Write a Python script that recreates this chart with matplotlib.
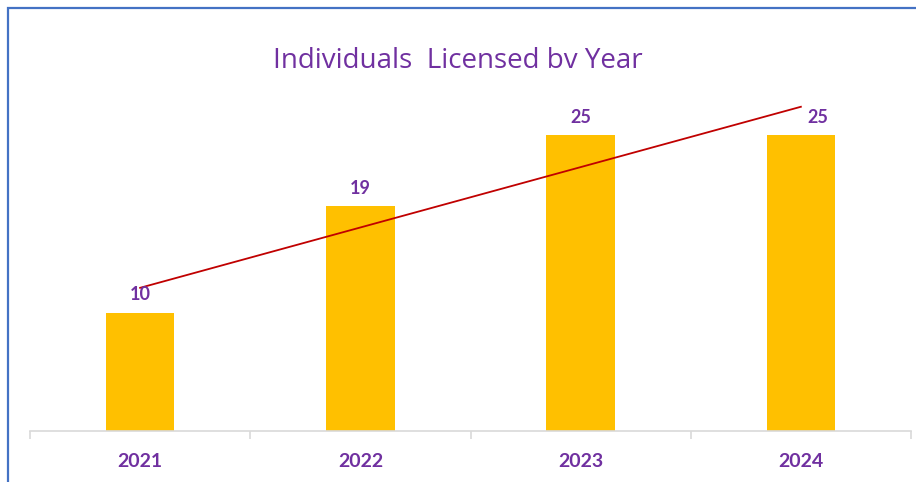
import matplotlib.pyplot as plt
import numpy as np
from matplotlib.patches import Rectangle

years = ['2021', '2022', '2023', '2024']
licensed = [10, 19, 25, 25]

purple = '#7030A0'
gold = '#FFC000'

plt.rcParams['font.family'] = ['Lato', 'DejaVu Sans']

fig = plt.figure(figsize=(9.16, 4.82), dpi=100)

# chart border, cropped at right and bottom like the screenshot
fig.patches.append(Rectangle((8 / 916, -0.1), 1.1, (482 - 8) / 482 + 0.1,
                             transform=fig.transFigure, fill=False,
                             edgecolor='#4472C4', linewidth=1.6))

ax = fig.add_axes([30 / 916, 51 / 482, 881 / 916, 355 / 482])
x = np.arange(len(years))
ax.bar(x, licensed, width=0.31, color=gold, zorder=2)

# linear trendline
slope, icpt = np.polyfit(x, licensed, 1)
ax.plot([x[0], x[-1]], [icpt + slope * x[0], icpt + slope * x[-1]],
        color='#C00000', linewidth=1.3, zorder=3)

for i, v in enumerate(licensed):
    dx = 0.075 if i == len(licensed) - 1 else 0
    ax.text(i + dx, v + 0.8, str(v), ha='center', va='bottom',
            color=purple, fontsize=13, fontweight='bold')

ax.set_xlim(-0.5, len(years) - 0.5)
ax.set_ylim(0, 30)
ax.set_xticks(x)
ax.set_xticklabels(years, color=purple, fontsize=14, fontweight='bold')
ax.set_xticks(np.arange(-0.5, len(years)), minor=True)
ax.tick_params(axis='x', which='major', length=0, pad=16)
ax.tick_params(axis='x', which='minor', length=6, color='#D9D9D9', width=1.2)
ax.set_yticks([])
for s in ['left', 'right', 'top']:
    ax.spines[s].set_visible(False)
ax.spines['bottom'].set_color('#D9D9D9')
ax.spines['bottom'].set_linewidth(1.2)

fig.text(458 / 916, 1 - 61 / 482, 'Individuals  Licensed bv Year',
         ha='center', va='center', color=purple, fontsize=20,
         family=['Open Sans', 'DejaVu Sans'])

fig.savefig('out.png', dpi=100)
